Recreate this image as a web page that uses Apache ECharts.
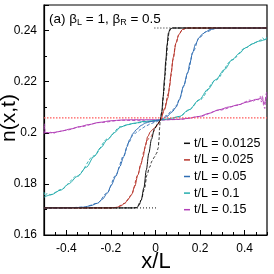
<!DOCTYPE html>
<html><head><meta charset="utf-8">
<script src="https://cdn.jsdelivr.net/npm/echarts@6/dist/echarts.min.js"></script>
<style>html,body{margin:0;padding:0;background:#fff}#c{width:274px;height:274px}</style>
</head><body><div id="c"></div>
<script>
// ---- data ----
var seriesNames = ['t/L = 0.0125', 't/L = 0.025', 't/L = 0.05', 't/L = 0.1', 't/L = 0.15'];
var xTicks = [-0.4, -0.2, 0, 0.2, 0.4];
var yTicks = [0.16, 0.18, 0.2, 0.22, 0.24];
var xTitle = 'x/L', yTitle = 'n(x,t)';

var blackX = [-0.5, -0.1, -0.084, -0.074, -0.064, -0.052, -0.041, -0.03, -0.018, -0.005, 0.01, 0.021, 0.028, 0.034, 0.04, 0.046, 0.052, 0.058, 0.065, 0.075, 0.5];
var blackY = [0.1706, 0.1706, 0.1707, 0.1716, 0.1737, 0.1785, 0.1855, 0.192, 0.1975, 0.2015, 0.2035, 0.2048, 0.208, 0.214, 0.2208, 0.228, 0.2345, 0.239, 0.2405, 0.241, 0.241];
var blackDX = [-0.5, -0.1, -0.084, -0.064, -0.05, -0.038, -0.027, -0.015, -0.005, 0.005, 0.012, 0.016, 0.018, 0.021, 0.03, 0.037, 0.043, 0.049, 0.055, 0.061, 0.068, 0.08, 0.5];
var blackDY = [0.1706, 0.1706, 0.1707, 0.1737, 0.178, 0.1835, 0.1865, 0.189, 0.1905, 0.192, 0.194, 0.1975, 0.2015, 0.2048, 0.209, 0.2155, 0.2225, 0.2295, 0.2355, 0.2395, 0.2407, 0.241, 0.241];

var redX = [-0.5, -0.2, -0.175, -0.155, -0.138, -0.122, -0.108, -0.093, -0.079, -0.066, -0.056, -0.045, -0.035, -0.022, -0.01, 0.003, 0.022, 0.04, 0.055, 0.064, 0.07, 0.08, 0.092, 0.105, 0.121, 0.14, 0.5];
var redY = [0.1706, 0.1706, 0.1708, 0.1714, 0.1724, 0.174, 0.1757, 0.179, 0.1835, 0.1875, 0.1905, 0.195, 0.1985, 0.2005, 0.2015, 0.2025, 0.2048, 0.209, 0.2135, 0.2185, 0.2235, 0.2295, 0.2352, 0.2385, 0.2404, 0.241, 0.241];
var redDX = [-0.5, -0.2, -0.175, -0.138, -0.108, -0.079, -0.065, -0.05, -0.04, -0.03, -0.02, -0.01, 0.005, 0.022, 0.04, 0.058, 0.068, 0.078, 0.09, 0.104, 0.12, 0.14, 0.5];
var redDY = [0.1706, 0.1706, 0.1708, 0.1724, 0.1757, 0.1835, 0.188, 0.1935, 0.1965, 0.1978, 0.1985, 0.2003, 0.2025, 0.2048, 0.2095, 0.2155, 0.2215, 0.2285, 0.2345, 0.2382, 0.2403, 0.241, 0.241];

var blueX = [-0.5, -0.409, -0.36, -0.32, -0.29, -0.261, -0.238, -0.216, -0.198, -0.179, -0.16, -0.142, -0.128, -0.116, -0.1, -0.085, -0.064, -0.045, -0.027, 0.0, 0.022, 0.05, 0.075, 0.092, 0.107, 0.125, 0.144, 0.155, 0.166, 0.18, 0.195, 0.21, 0.225, 0.245, 0.27, 0.3, 0.5];
var blueY = [0.1706, 0.1706, 0.1707, 0.1709, 0.1715, 0.1724, 0.174, 0.1764, 0.1795, 0.1829, 0.1868, 0.1907, 0.1945, 0.1973, 0.1998, 0.2013, 0.2029, 0.2038, 0.2043, 0.2047, 0.205, 0.2063, 0.2082, 0.21, 0.2129, 0.218, 0.2234, 0.2275, 0.2313, 0.2348, 0.2372, 0.2386, 0.2395, 0.2404, 0.2409, 0.241, 0.241];
var blueDX = [-0.5, -0.409, -0.32, -0.261, -0.216, -0.179, -0.142, -0.12, -0.1, -0.08, -0.06, -0.04, -0.02, 0.0, 0.022, 0.05, 0.075, 0.095, 0.11, 0.128, 0.146, 0.168, 0.195, 0.225, 0.27, 0.3, 0.5];
var blueDY = [0.1706, 0.1706, 0.1709, 0.1724, 0.1766, 0.1833, 0.1912, 0.1962, 0.1992, 0.2005, 0.2018, 0.2028, 0.2036, 0.2042, 0.205, 0.2068, 0.2088, 0.2108, 0.2138, 0.2188, 0.2238, 0.2315, 0.237, 0.2394, 0.2408, 0.241, 0.241];

var tealX = [-0.5, -0.47, -0.424, -0.39, -0.35, -0.31, -0.276, -0.245, -0.216, -0.185, -0.157, -0.13, -0.09, -0.056, 0.022, 0.06, 0.107, 0.15, 0.196, 0.235, 0.27, 0.31, 0.344, 0.375, 0.403, 0.435, 0.462, 0.5];
var tealY = [0.1748, 0.1757, 0.1776, 0.18, 0.1829, 0.1865, 0.1907, 0.1942, 0.1973, 0.2, 0.2022, 0.2031, 0.2038, 0.2044, 0.205, 0.2055, 0.2064, 0.209, 0.2129, 0.217, 0.2208, 0.2248, 0.2286, 0.231, 0.2332, 0.2348, 0.2358, 0.2368];
var tealDX = [-0.5, -0.495, -0.488, -0.47, -0.424, -0.35, -0.276, -0.216, -0.157, -0.1, -0.05, 0.0, 0.022, 0.06, 0.107, 0.15, 0.196, 0.27, 0.344, 0.403, 0.45, 0.47, 0.48, 0.49, 0.5];
var tealDY = [0.1768, 0.1752, 0.1762, 0.1758, 0.1778, 0.1832, 0.191, 0.1976, 0.2024, 0.2036, 0.2042, 0.2046, 0.205, 0.2053, 0.2062, 0.2088, 0.2127, 0.2206, 0.2285, 0.2333, 0.2354, 0.2362, 0.2372, 0.2362, 0.2375];

var magX = [-0.5, -0.49, -0.47, -0.45, -0.42, -0.38, -0.34, -0.3, -0.25, -0.2, -0.15, -0.1, -0.05, 0.0, 0.05, 0.107, 0.15, 0.196, 0.24, 0.284, 0.33, 0.373, 0.41, 0.448, 0.47, 0.48, 0.488, 0.495, 0.5];
var magY = [0.2003, 0.2001, 0.2, 0.2002, 0.2007, 0.2015, 0.2024, 0.2032, 0.2041, 0.2047, 0.205, 0.2051, 0.2051, 0.2051, 0.2051, 0.2053, 0.2057, 0.2064, 0.2076, 0.209, 0.2101, 0.211, 0.212, 0.2129, 0.2134, 0.2128, 0.2112, 0.2132, 0.215];
var magDX = [-0.5, -0.498, -0.495, -0.49, -0.485, -0.48, -0.47, -0.46, -0.44, -0.4, -0.34, -0.25, -0.15, -0.05, -0.02, 0.0, 0.02, 0.05, 0.107, 0.196, 0.284, 0.373, 0.4, 0.42, 0.44, 0.45, 0.46, 0.47, 0.475, 0.48, 0.485, 0.49, 0.495, 0.5];
var magDY = [0.1995, 0.2035, 0.2005, 0.1998, 0.2003, 0.1996, 0.2002, 0.1997, 0.2004, 0.201, 0.2023, 0.204, 0.2049, 0.2047, 0.2043, 0.2046, 0.2049, 0.2051, 0.2052, 0.2063, 0.2088, 0.2108, 0.212, 0.2128, 0.2123, 0.2135, 0.2128, 0.2142, 0.212, 0.2145, 0.2105, 0.2095, 0.215, 0.2165];

var stepLeftX = [-0.5, 0.005], stepLeftY = [0.1706, 0.1706];
var stepRightX = [-0.005, 0.5], stepRightY = [0.241, 0.241];
var midX = [-0.5, 0.5], midY = [0.2058, 0.2058];

// ---- build ----
function pairs(xs, ys) { return xs.map(function (x, i) { return [x, ys[i]]; }); }
var colors = ['#111111', '#b8352b', '#2f6db3', '#25adad', '#b23fb8'];
var solidData = [pairs(blackX, blackY), pairs(redX, redY), pairs(blueX, blueY), pairs(tealX, tealY), pairs(magX, magY)];
var dashData = [pairs(blackDX, blackDY), pairs(redDX, redDY), pairs(blueDX, blueDY), pairs(tealDX, tealDY), pairs(magDX, magDY)];
var FONT = 'Liberation Sans';

var series = [];
series.push({ type: 'line', name: 'step1', data: pairs(stepLeftX, stepLeftY), showSymbol: false, silent: true,
  lineStyle: { color: '#111', width: 1, type: [1, 2] }, z: 1 });
series.push({ type: 'line', name: 'step2', data: pairs(stepRightX, stepRightY), showSymbol: false, silent: true,
  lineStyle: { color: '#111', width: 1, type: [1, 2] }, z: 1 });
for (var i = 4; i >= 0; i--) {
  series.push({ type: 'line', name: seriesNames[i] + ' ', data: dashData[i], showSymbol: false,
    smooth: 0.3, smoothMonotone: 'x', lineStyle: { color: colors[i], width: 0.9, type: [3, 2] }, z: 2 });
  series.push({ type: 'line', name: seriesNames[i], data: solidData[i], showSymbol: false,
    smooth: 0.3, smoothMonotone: 'x', itemStyle: { color: colors[i] }, lineStyle: { color: colors[i], width: 1 }, z: 3 });
}
series.push({ type: 'line', name: 'mid', data: pairs(midX, midY), showSymbol: false, silent: true,
  lineStyle: { color: '#ff5a5a', width: 1.2, type: [1.5, 1.5] }, z: 4 });

var chart = echarts.init(document.getElementById('c'), null, { renderer: 'canvas' });
chart.setOption({
  animation: false,
  backgroundColor: '#fff',
  grid: { left: 44, right: 7, top: 5, bottom: 39, outerBoundsMode: 'none', containLabel: false,
    show: true, borderColor: '#000', borderWidth: 1.2, backgroundColor: 'transparent' },
  legend: {
    data: seriesNames, orient: 'vertical', left: 179, top: 131, itemGap: 2,
    itemWidth: 6, itemHeight: 1.5, icon: 'rect',
    textStyle: { fontFamily: FONT, fontSize: 12.5, color: '#000', lineHeight: 14.6, padding: [0, 0, 0, -1] }
  },
  graphic: [{
    type: 'text', left: 49, top: 12,
    style: {
      text: '(a) β{s|L} = 1, β{s|R} = 0.5',
      font: '13.5px "Liberation Sans"', fill: '#000',
      rich: { s: { fontSize: 9, fontFamily: FONT, fill: '#000', padding: [7, 0, 0, 0] } }
    }
  }, {
    type: 'text', x: 9, y: 118, rotation: Math.PI / 2,
    style: { text: yTitle, font: '21px "Liberation Sans"', fill: '#000', align: 'center', verticalAlign: 'middle' }
  }, {
    type: 'text', x: 156, y: 262,
    style: { text: xTitle, font: '22px "Liberation Sans"', fill: '#000', align: 'center', verticalAlign: 'middle' }
  }],
  xAxis: [{
    type: 'value', min: -0.5, max: 0.5, interval: 0.05,
    axisLine: { show: true, onZero: false, lineStyle: { color: '#000', width: 1.2 } },
    axisTick: { show: true, inside: true, length: 3, lineStyle: { color: '#000' } },
    axisLabel: { show: true, customValues: xTicks, margin: 8, fontFamily: FONT, fontSize: 12, color: '#000',
      formatter: function (v) { return String(Math.round(v * 10) / 10); } },
    splitLine: { show: false }
  }, {
    type: 'value', min: -0.5, max: 0.5, position: 'bottom',
    axisLine: { show: false, onZero: false },
    axisTick: { show: true, inside: true, length: 5, customValues: xTicks, lineStyle: { color: '#000' } },
    axisLabel: { show: false }, splitLine: { show: false }
  }],
  yAxis: {
    type: 'value', min: 0.16, max: 0.25, interval: 0.02,
    axisLine: { show: true, onZero: false, lineStyle: { color: '#000', width: 1.2 } },
    axisTick: { show: true, inside: true, length: 5, lineStyle: { color: '#000' } },
    minorTick: { show: true, splitNumber: 2, length: 3, lineStyle: { color: '#000' } },
    axisLabel: { margin: 7, fontFamily: FONT, fontSize: 12, color: '#000', customValues: yTicks,
      formatter: function (v) { return String(Math.round(v * 100) / 100); } },
    splitLine: { show: false }
  },
  series: series
});
</script></body></html>
